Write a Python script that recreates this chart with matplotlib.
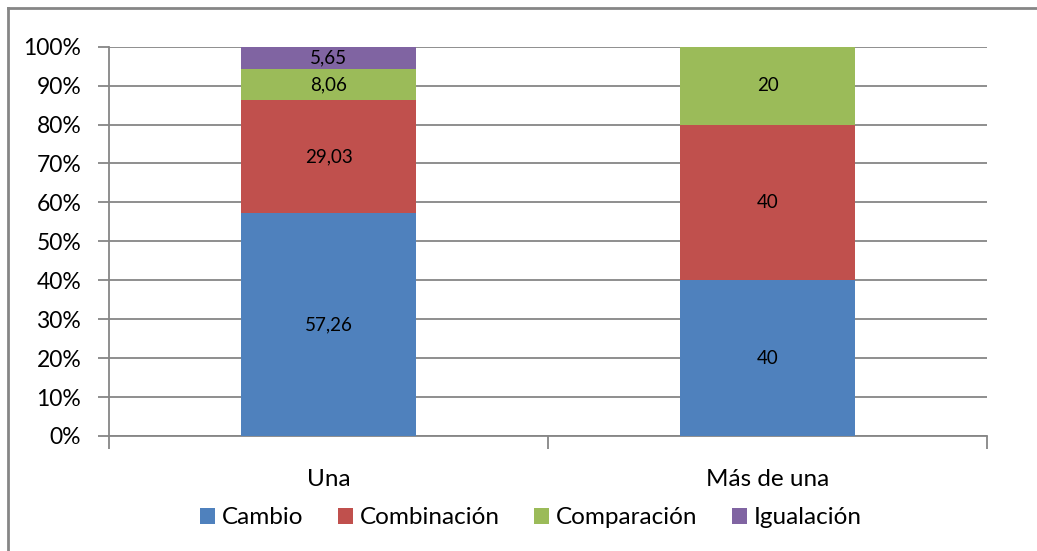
import matplotlib
matplotlib.use("Agg")
import matplotlib.pyplot as plt
from matplotlib.lines import Line2D
from matplotlib.patches import Patch
import numpy as np

categories = ["Una", "Más de una"]
series_names = ["Cambio", "Combinación", "Comparación", "Igualación"]
cambio = [57.26, 40]
combinacion = [29.03, 40]
comparacion = [8.06, 20]
igualacion = [5.65, 0]
series_values = [cambio, combinacion, comparacion, igualacion]
colors = ["#4F81BD", "#C0504D", "#9BBB59", "#8064A2"]
yticks = [0, 10, 20, 30, 40, 50, 60, 70, 80, 90, 100]
ytick_labels = [f"{v}%" for v in yticks]

plt.rcParams['font.family'] = ['Lato', 'DejaVu Sans']

W, H = 1037, 551
fig = plt.figure(figsize=(W / 100, H / 100), dpi=100)
ax = fig.add_axes([109 / W, 1 - 436 / H, (987 - 109) / W, (436 - 46.7) / H])

grid_c = "#868686"
x = np.arange(len(categories))
bottom = np.zeros(len(categories))
tot = np.array([sum(s[i] for s in series_values) for i in range(len(categories))])
for name, vals, c in zip(series_names, series_values, colors):
    vals = np.array(vals, dtype=float)
    pct = vals / tot * 100
    ax.bar(x, pct, 0.4, bottom=bottom, color=c, zorder=3, label=name)
    for i, v in enumerate(vals):
        if v > 0:
            lab = f"{v:.2f}".replace(".", ",") if v != int(v) else f"{int(v)}"
            ax.text(x[i], bottom[i] + pct[i] / 2, lab, ha="center", va="center",
                    fontsize=13.5, color="black", zorder=4)
    bottom = bottom + pct

ax.set_xlim(-0.5, 1.5)
ax.set_ylim(0, 100)
ax.set_yticks(yticks)
ax.set_yticklabels(ytick_labels, fontsize=16.5)
ax.yaxis.grid(True, color=grid_c, linewidth=1.3, zorder=1)
ax.set_axisbelow(True)
ax.tick_params(axis="y", length=8, width=1.3, color=grid_c, pad=12)

ax.set_xticks(x)
ax.set_xticklabels(categories, fontsize=17.5)
ax.set_xticks([-0.5, 0.5, 1.5], minor=True)
ax.tick_params(axis="x", which="major", length=0, pad=24)
ax.tick_params(axis="x", which="minor", length=9, width=1.3, color=grid_c)

for s in ["top", "right"]:
    ax.spines[s].set_visible(False)
for s in ["left", "bottom"]:
    ax.spines[s].set_color(grid_c)
    ax.spines[s].set_linewidth(1.3)

handles = [Patch(facecolor=c, edgecolor="none") for c in colors]
fig.legend(handles, series_names, loc="center", bbox_to_anchor=(531 / W, 1 - 518 / H),
           ncol=4, frameon=False, fontsize=17.5, handlelength=0.62, handleheight=0.62,
           handletextpad=0.29, columnspacing=1.4, borderpad=0)

# chart-area border (top and left visible)
fig.add_artist(Line2D([7.5 / W, 1], [1 - 7.5 / H, 1 - 7.5 / H], transform=fig.transFigure,
                      color=grid_c, linewidth=2))
fig.add_artist(Line2D([7.5 / W, 7.5 / W], [0, 1 - 7.5 / H], transform=fig.transFigure,
                      color=grid_c, linewidth=2))

fig.savefig("out.png", dpi=100, facecolor="white")
